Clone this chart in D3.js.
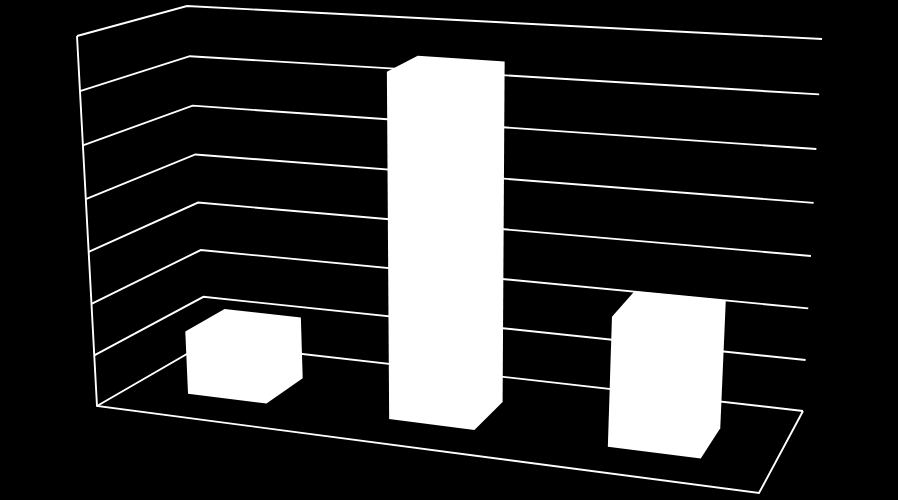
<!DOCTYPE html>
<html>
<head>
<meta charset="utf-8">
<script src="https://cdn.jsdelivr.net/npm/d3@7"></script>
<style>
  html, body { margin: 0; padding: 0; background: #000; }
  svg { display: block; }
</style>
</head>
<body>
<div class="chart"></div>
<script>
// values
var categories = ["1", "2", "3"];
var values = [1.25, 6.55, 2.45];
var tickValues = [0, 1, 2, 3, 4, 5, 6, 7];

var width = 898, height = 500;

var svg = d3.select(".chart").append("svg")
    .attr("width", width)
    .attr("height", height);

// Each vertical corner of the 3D box gets its own pair of scales (0 = floor, 1 = top).
function cornerScale(x0, y0, x1, y1) {
    return {
        x: d3.scaleLinear().domain([0, 1]).range([x0, x1]),
        y: d3.scaleLinear().domain([0, 1]).range([y0, y1])
    };
}
var frontLeft = cornerScale(97, 406, 77, 36);
var backLeft = cornerScale(206, 343, 187, 6);
var backRight = cornerScale(803, 411, 822, 39);
var frontRight = cornerScale(759, 493, 784, 93);

var valueScale = d3.scaleLinear().domain([0, 7]).range([0, 1]);

// Category positions, 0..1 along the floor. Bars sit in a band with a wide gap.
var band = d3.scaleBand().domain(categories).range([0, 1]).paddingInner(0.6).paddingOuter(0.3);
var depth = d3.scaleLinear().domain([0, 1]).range([0.31, 0.69]);

// Foreshortening: the right hand side and the top are closer to the camera.
function warp(t, k) { return t / (k * (1 - t) + t); }

function project(u, d, v) {
    var w = warp(u, 1.135);
    var h = warp(valueScale(v), 1.05);
    var axis = function (a) {
        var front = d3.interpolateNumber(frontLeft[a](h), frontRight[a](h))(w);
        var back = d3.interpolateNumber(backLeft[a](h), backRight[a](h))(w);
        return d3.interpolateNumber(front, back)(d);
    };
    return [axis("x"), axis("y")];
}

var line = d3.line();

// Gridlines: along the left wall, then along the back wall.
svg.selectAll("path.grid")
    .data(tickValues)
    .enter().append("path")
    .attr("class", "grid")
    .attr("d", function (v) { return line([project(0, 0, v), project(0, 1, v), project(1, 1, v)]); })
    .attr("fill", "none")
    .attr("stroke", "#fff")
    .attr("stroke-width", 1.9);

// Value axis and the open edges of the floor.
svg.append("path")
    .attr("d", line([project(0, 0, 7), project(0, 0, 0), project(1, 0, 0), project(1, 1, 0)]))
    .attr("fill", "none")
    .attr("stroke", "#fff")
    .attr("stroke-width", 1.9);

// Bars: every face is plain white, so only the outline of the box is filled.
svg.selectAll("path.bar")
    .data(categories)
    .enter().append("path")
    .attr("class", "bar")
    .attr("d", function (c, i) {
        var u0 = band(c), u1 = u0 + band.bandwidth();
        var d0 = depth(0), d1 = depth(1), v = values[i];
        var corners = [];
        [u0, u1].forEach(function (u) {
            [d0, d1].forEach(function (d) {
                corners.push(project(u, d, 0), project(u, d, v));
            });
        });
        return line(d3.polygonHull(corners)) + "Z";
    })
    .attr("fill", "#fff");
</script>
</body>
</html>
